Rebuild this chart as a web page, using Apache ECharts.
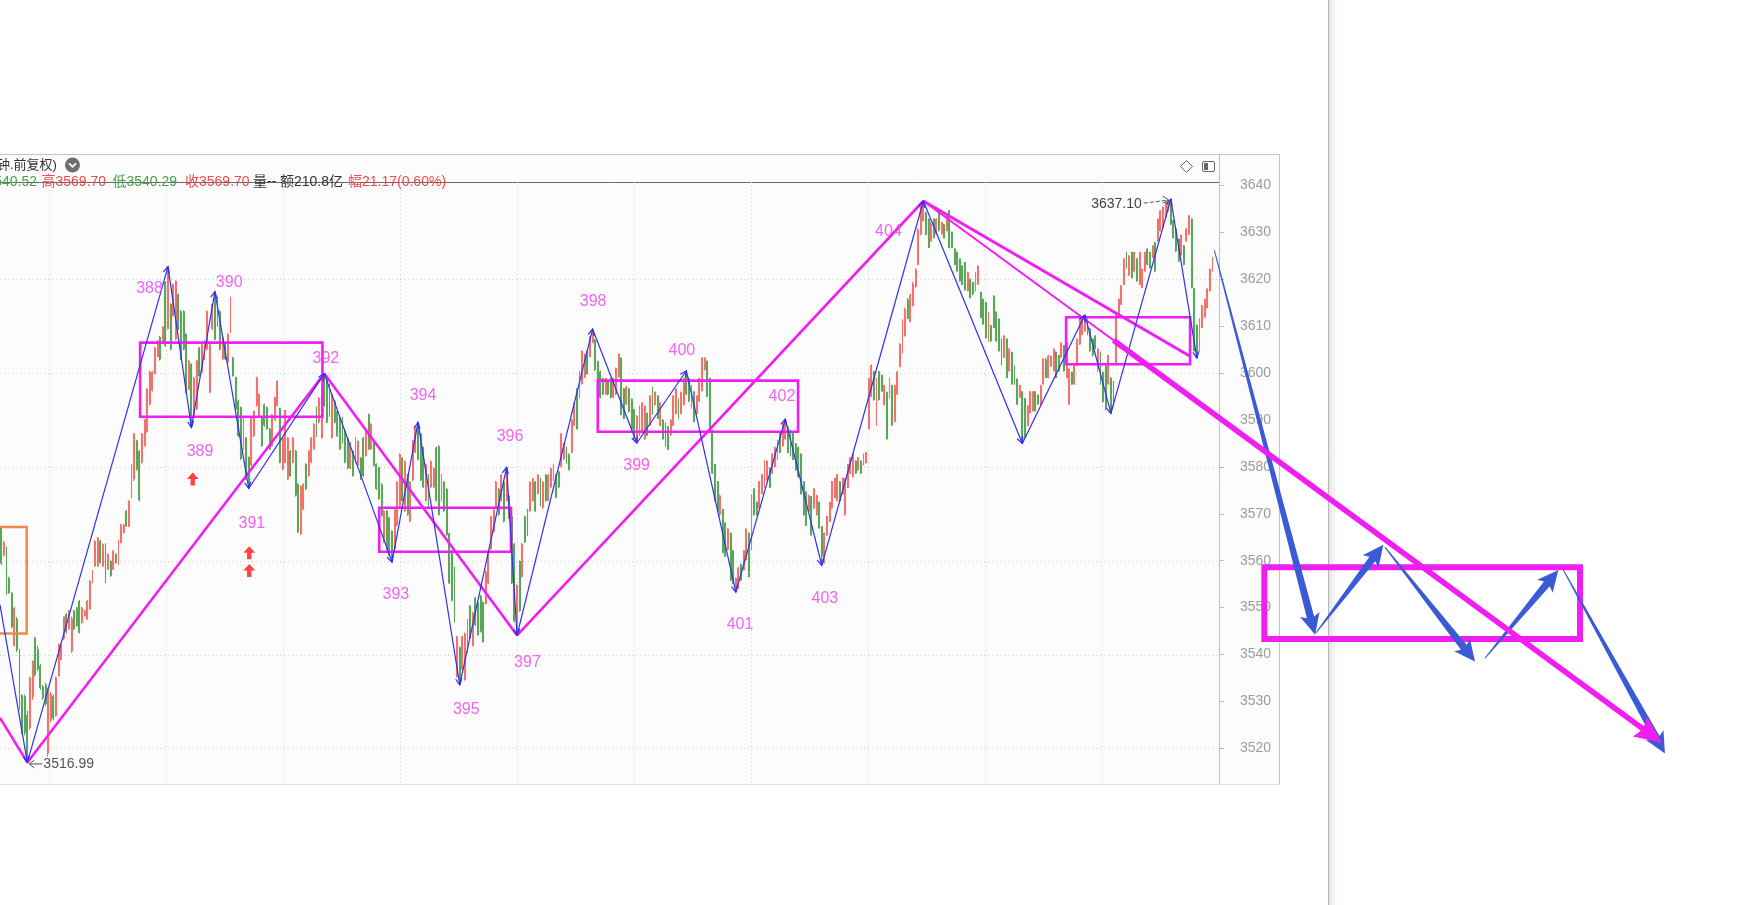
<!DOCTYPE html>
<html>
<head>
<meta charset="utf-8">
<script src="https://cdn.jsdelivr.net/npm/echarts@6.0.0/dist/echarts.min.js"></script>
<style>
html,body{margin:0;padding:0;background:#fff;}
#chart{width:1737px;height:905px;}
</style>
</head>
<body>
<div id="chart"></div>
<script>
// ---------------- DATA ----------------
// candles: [open, close, low, high]
const candlesA = [
[3567.0,3559.5,3559.1,3567.4],[3561.2,3563.8,3560.9,3564.2],[3562.6,3553.2,3552.7,3563.0],[3556.2,3553.3,3552.9,3556.6],
[3553.0,3546.0,3545.6,3553.4],[3542.0,3549.8,3541.7,3550.2],[3547.5,3541.0,3540.5,3548.0],[3540.8,3528.8,3528.2,3541.2],
[3531.2,3523.5,3523.0,3531.6],[3531.0,3523.5,3522.8,3531.5],[3527.0,3518.0,3516.99,3528.0]
];
const candlesB = [
[3524.5,3535.0,3523.9,3535.3],[3531.0,3538.5,3530.3,3538.8],[3543.5,3535.8,3535.3,3543.8],[3541.0,3537.0,3536.5,3541.8],
[3537.5,3533.0,3532.5,3538.0],[3533.0,3530.8,3530.3,3533.5],[3533.5,3529.5,3529.0,3534.0],[3519.0,3532.5,3518.2,3532.9],
[3526.0,3531.5,3525.5,3532.0],[3531.0,3526.5,3526.0,3531.5],[3527.0,3535.0,3526.8,3535.3],[3535.5,3542.0,3535.3,3542.4],
[3539.0,3542.0,3538.8,3542.4],[3543.5,3548.0,3543.1,3548.1],[3548.5,3545.0,3544.5,3548.8],[3545.5,3549.2,3545.2,3549.5],
[3540.8,3547.5,3540.3,3548.1],[3549.2,3545.5,3545.2,3549.5],[3549.9,3546.2,3545.9,3550.2],[3551.3,3544.8,3544.5,3551.6],
[3546.9,3549.9,3546.6,3550.2],[3548.3,3549.3,3548.1,3549.5],[3547.6,3551.3,3547.4,3551.6],[3549.8,3555.6,3549.5,3555.9],
[3555.4,3557.8,3555.2,3558.0],[3558.9,3564.1,3558.7,3564.4],[3558.9,3564.8,3558.7,3565.1],[3564.1,3559.7,3559.4,3564.4],
[3558.9,3563.4,3558.7,3563.7],[3563.4,3555.5,3555.2,3563.7],[3558.2,3561.3,3558.0,3561.6],[3559.8,3556.9,3556.6,3560.1],
[3558.2,3562.0,3558.0,3562.3],[3561.3,3559.6,3559.4,3561.6],[3559.3,3564.1,3559.1,3564.4],[3563.9,3567.6,3563.7,3567.9],
[3566.0,3567.6,3565.8,3567.9],[3570.5,3567.5,3567.2,3570.8],[3567.4,3572.6,3567.2,3572.9],[3574.0,3580.3,3573.3,3580.7],
[3577.5,3587.0,3577.0,3587.3],[3585.5,3579.6,3579.2,3585.8],[3583.3,3573.0,3572.6,3583.6],[3581.0,3587.0,3580.7,3587.3],
[3584.6,3590.0,3584.3,3590.2],[3587.6,3596.5,3587.3,3596.8],[3593.4,3600.2,3593.1,3600.5],[3596.4,3600.2,3596.1,3600.5],
[3600.0,3605.3,3599.7,3605.6],[3603.6,3606.8,3603.4,3607.1],[3607.6,3603.0,3602.7,3607.9],[3606.6,3609.8,3606.4,3610.0],
[3619.3,3606.0,3605.6,3619.6],[3609.5,3622.4,3609.3,3622.7]
];
const candlesC = [
[3614.6,3605.2,3604.9,3614.9],[3612.3,3618.8,3612.0,3619.1],[3607.3,3619.5,3607.0,3619.8],[3616.7,3609.5,3609.2,3617.0],
[3613.1,3603.1,3602.8,3613.4],[3613.1,3605.2,3604.9,3613.4],[3608.2,3596.0,3595.7,3608.5],[3596.7,3602.5,3596.4,3602.8],
[3601.8,3588.7,3588.4,3602.1],[3591.0,3598.9,3590.7,3599.2],[3592.4,3602.5,3592.1,3602.8],[3605.3,3599.5,3599.2,3605.6],
[3600.2,3606.0,3599.9,3606.3],[3603.1,3606.7,3602.8,3607.0],[3605.2,3613.1,3604.9,3613.4],[3596.0,3606.0,3595.7,3606.3],
[3609.5,3614.6,3609.2,3614.9],[3616.7,3607.3,3607.0,3617.4],[3616.0,3610.2,3609.9,3616.3],[3613.1,3605.2,3604.9,3613.4],
[3603.1,3607.5,3602.8,3607.8],[3606.0,3603.1,3602.8,3606.3],[3602.4,3608.2,3602.1,3608.5],[3608.8,3616.0,3608.5,3616.3],
[3603.2,3599.5,3599.2,3603.5],[3599.0,3592.4,3592.1,3599.2],[3594.0,3586.7,3586.4,3594.3],[3592.6,3581.8,3581.5,3592.9],
[3583.9,3590.4,3583.6,3590.7],[3586.1,3577.5,3577.2,3586.4],[3582.0,3575.7,3575.4,3582.2],[3580.4,3590.4,3580.1,3590.7],
[3586.7,3591.8,3586.4,3592.1],[3593.2,3598.9,3592.9,3599.2],[3591.0,3595.4,3590.7,3595.7],[3590.4,3584.6,3584.3,3590.7],
[3593.2,3589.0,3588.6,3593.5],[3592.6,3588.2,3587.9,3592.9],[3588.0,3583.9,3583.6,3588.3],[3584.6,3591.0,3584.3,3591.3],
[3590.0,3594.7,3589.9,3595.0],[3593.2,3598.2,3592.9,3598.5],[3592.4,3581.0,3580.8,3592.6],[3579.6,3586.1,3579.3,3586.4],
[3581.0,3592.0,3580.8,3592.1],[3577.5,3586.1,3577.2,3586.4],[3583.3,3578.2,3577.9,3583.6],[3581.0,3586.1,3580.8,3586.4],
[3583.3,3574.0,3573.7,3583.6],[3576.2,3566.2,3565.9,3576.5],[3565.8,3575.8,3565.5,3576.1],[3571.1,3576.2,3570.8,3576.5],
[3580.5,3575.4,3575.1,3580.8],[3578.2,3583.3,3577.9,3583.6],[3581.1,3586.1,3580.8,3586.4],[3583.9,3589.0,3583.6,3589.3],
[3592.6,3586.7,3586.4,3592.9],[3589.6,3594.6,3589.3,3594.9],[3586.3,3595.4,3586.0,3595.7],[3599.4,3593.2,3592.9,3599.9]
];
const candlesD = [
[3598.9,3589.6,3589.3,3599.2],[3597.5,3591.0,3590.7,3597.8],[3586.3,3595.4,3586.0,3595.7],[3594.0,3589.6,3589.3,3594.3],
[3591.8,3586.7,3586.4,3592.1],[3590.4,3583.9,3583.6,3590.7],[3590.4,3585.3,3585.0,3590.7],[3587.6,3581.1,3580.8,3587.9],
[3586.1,3579.8,3579.5,3586.4],[3579.8,3585.0,3579.5,3585.3],[3583.3,3578.2,3577.9,3583.6],[3581.1,3586.1,3580.8,3586.4],
[3580.4,3585.4,3580.1,3585.7],[3581.8,3577.5,3577.2,3582.1],[3586.1,3578.2,3577.9,3586.4],[3582.5,3587.5,3582.2,3587.8],
[3591.1,3583.9,3583.6,3591.4],[3583.9,3589.0,3583.6,3589.3],[3585.0,3580.4,3580.1,3585.3],[3580.5,3575.4,3575.1,3580.8],
[3579.8,3573.3,3573.0,3580.0],[3576.2,3569.7,3569.4,3576.5],[3564.0,3570.5,3563.7,3570.8],[3570.5,3562.6,3562.3,3570.8],
[3569.1,3561.2,3560.9,3569.4],[3566.2,3560.1,3559.7,3566.5],[3562.6,3570.8,3562.3,3571.1],[3567.7,3576.7,3567.4,3577.0],
[3571.4,3582.6,3571.1,3582.9],[3581.8,3572.9,3572.6,3582.1],[3570.7,3581.1,3570.4,3581.4],[3578.2,3569.9,3569.6,3578.5],
[3568.5,3576.7,3568.2,3577.0],[3577.3,3585.5,3577.0,3585.8],[3583.2,3588.4,3582.9,3588.7],[3589.0,3581.7,3581.4,3589.5],
[3587.0,3577.3,3577.0,3587.3],[3584.0,3575.8,3575.5,3584.3],[3572.9,3580.4,3572.6,3580.7],[3578.2,3571.4,3571.1,3578.5],
[3575.8,3581.1,3575.5,3581.4],[3575.8,3579.6,3575.5,3579.9],[3584.0,3572.9,3572.6,3584.3],[3584.3,3569.9,3569.6,3584.6],
[3572.9,3578.2,3572.6,3578.5],[3576.7,3570.7,3570.4,3577.0],[3575.2,3565.6,3565.3,3575.5],[3565.7,3555.3,3555.0,3566.0],
[3562.0,3551.6,3551.3,3562.3],[3558.4,3547.2,3546.9,3558.7],[3535.4,3543.7,3535.1,3544.0],[3541.4,3534.0,3533.5,3541.7],
[3536.9,3543.7,3536.6,3544.0],[3534.7,3544.4,3534.4,3544.7],[3540.6,3547.3,3540.3,3547.6],[3550.3,3543.5,3543.2,3550.6],
[3542.0,3548.8,3541.7,3549.1],[3552.0,3546.4,3546.1,3552.3],[3551.0,3544.3,3544.0,3551.3],[3552.4,3545.0,3544.7,3552.7],
[3551.0,3542.8,3542.5,3551.3],[3550.9,3557.6,3550.6,3557.9],[3555.3,3562.0,3555.0,3562.3],[3562.6,3569.3,3562.3,3569.6],
[3566.3,3570.8,3566.0,3571.1],[3571.4,3576.7,3571.1,3577.0],[3575.2,3569.9,3569.6,3575.5],[3572.9,3578.2,3572.6,3578.5],
[3576.7,3568.5,3568.2,3577.0],[3572.9,3579.6,3572.6,3579.9],[3573.8,3569.2,3568.9,3574.1],[3569.3,3555.3,3555.0,3569.6],
[3563.5,3547.2,3546.9,3563.8],[3544.3,3554.7,3544.1,3555.0]
];
const candlesE = [
[3559.8,3549.4,3549.1,3560.1],[3556.7,3563.5,3556.4,3563.8],[3569.3,3564.1,3563.8,3569.6],[3570.8,3565.6,3565.3,3571.1],
[3570.7,3576.7,3570.4,3577.0],[3572.9,3577.4,3572.6,3577.7],[3576.7,3570.7,3570.4,3577.0],[3574.4,3578.2,3574.1,3578.5],
[3577.4,3571.9,3571.6,3577.7],[3571.4,3576.7,3571.1,3577.0],[3578.2,3572.9,3572.6,3578.5],[3572.9,3578.2,3572.6,3578.5],
[3575.8,3579.6,3575.5,3579.9],[3577.3,3580.4,3577.0,3580.7],[3578.2,3573.6,3573.3,3578.5],[3578.9,3575.8,3575.5,3579.2],
[3580.2,3587.0,3579.9,3587.3],[3581.7,3584.8,3581.4,3585.1],[3584.0,3581.0,3580.7,3584.3],[3582.6,3579.5,3579.2,3582.9],
[3583.2,3589.9,3582.9,3590.2],[3588.9,3593.6,3588.7,3593.9],[3596.5,3588.2,3587.9,3596.8],[3594.8,3600.2,3594.6,3600.5],
[3597.8,3604.6,3597.5,3604.9],[3599.2,3603.9,3598.9,3604.2],[3604.6,3599.9,3599.7,3604.9],[3603.6,3607.6,3603.4,3607.9],
[3606.6,3609.1,3606.4,3609.4],[3607.0,3600.8,3600.5,3607.2],[3602.4,3597.8,3597.5,3602.7],[3600.2,3594.9,3594.6,3600.5],
[3598.8,3595.6,3595.3,3599.0],[3595.6,3598.8,3595.3,3599.0],[3598.1,3595.6,3595.3,3598.3],[3598.8,3594.9,3594.6,3599.0],
[3594.9,3598.8,3594.6,3599.0],[3595.6,3601.0,3595.3,3601.2],[3599.3,3604.0,3599.0,3604.2],[3603.2,3591.2,3591.0,3603.4],
[3596.6,3590.4,3590.2,3596.8],[3593.5,3597.0,3593.2,3597.3],[3596.6,3591.9,3591.6,3596.8],[3594.4,3588.2,3588.0,3594.6],
[3592.2,3586.0,3585.8,3592.4],[3585.4,3590.8,3585.1,3591.0],[3587.0,3592.9,3586.6,3593.1],[3587.5,3593.6,3587.3,3593.8],
[3586.0,3592.9,3585.8,3593.1],[3591.4,3586.8,3586.6,3591.6],[3588.9,3595.1,3588.7,3595.3],[3596.9,3591.4,3591.2,3597.1],
[3593.3,3595.9,3593.1,3596.1],[3595.1,3590.4,3590.2,3595.3],[3588.9,3593.6,3588.7,3593.8],[3589.9,3586.0,3585.8,3590.2],
[3589.3,3584.5,3584.3,3589.5],[3588.5,3583.8,3583.6,3588.7],[3587.0,3589.9,3586.6,3590.2],[3588.9,3595.1,3588.7,3595.3],
[3591.4,3596.6,3591.2,3596.8],[3594.4,3590.4,3590.2,3594.6],[3591.4,3595.8,3591.2,3596.1],[3593.3,3598.8,3593.1,3599.0],
[3600.3,3595.6,3595.3,3600.5],[3598.8,3594.1,3593.8,3599.0],[3592.6,3597.3,3592.4,3597.5],[3596.0,3589.7,3589.5,3596.1],
[3591.4,3595.1,3591.2,3595.3],[3594.1,3598.8,3593.8,3599.0],[3596.3,3603.2,3596.1,3603.4],[3600.8,3603.2,3600.5,3603.4],
[3602.5,3595.1,3594.9,3602.7],[3598.8,3587.5,3587.3,3599.0],[3587.8,3578.7,3578.5,3588.0],[3580.5,3572.9,3572.6,3580.7],
[3576.8,3570.6,3570.4,3577.0],[3569.9,3573.8,3569.6,3574.1],[3570.9,3561.8,3561.6,3571.1],[3568.0,3561.0,3560.8,3568.2],
[3562.5,3566.7,3562.3,3566.9],[3565.8,3555.9,3555.7,3566.0],[3562.1,3555.2,3555.0,3562.3],[3553.5,3556.2,3553.3,3556.4]
];
const candlesF = [
[3554.2,3558.4,3554.0,3558.7],[3559.2,3555.9,3555.7,3559.4],[3558.1,3562.1,3557.9,3562.3],[3560.2,3566.7,3560.0,3566.9],
[3565.8,3556.6,3556.4,3566.0],[3562.5,3573.8,3562.3,3574.1],[3575.3,3569.9,3569.6,3575.5],[3572.4,3569.9,3569.6,3572.6],
[3571.3,3576.8,3571.1,3577.0],[3574.3,3578.3,3574.1,3578.5],[3575.7,3581.2,3575.5,3581.4],[3577.2,3581.2,3577.0,3581.4],
[3579.7,3575.7,3575.5,3579.9],[3578.7,3582.7,3578.5,3582.9],[3580.1,3584.1,3579.9,3584.3],[3581.6,3585.6,3581.4,3585.8],
[3587.1,3583.1,3582.9,3587.3],[3584.5,3589.3,3584.3,3589.5],[3586.0,3590.0,3585.8,3590.2],[3588.5,3583.1,3582.9,3588.7],
[3587.8,3582.4,3582.2,3588.0],[3587.1,3581.6,3581.4,3587.3],[3584.9,3579.4,3579.2,3585.1],[3584.1,3577.9,3577.7,3584.3],
[3582.7,3574.3,3574.1,3582.9],[3576.8,3569.9,3569.6,3577.0],[3574.6,3567.6,3567.4,3574.8],[3570.6,3573.8,3570.4,3574.1],
[3573.6,3565.5,3565.3,3573.8],[3571.3,3575.3,3571.1,3575.5],[3569.9,3573.8,3569.6,3574.1],[3572.4,3567.0,3566.8,3572.6],
[3567.2,3561.0,3559.0,3567.4],[3559.6,3565.8,3559.4,3566.0],[3565.5,3569.4,3565.3,3569.6],[3568.4,3572.4,3568.2,3572.6],
[3571.3,3576.8,3571.1,3577.0],[3573.5,3577.5,3573.3,3577.7],[3572.8,3578.3,3572.6,3578.5],[3576.8,3572.8,3572.6,3577.0],
[3574.3,3577.5,3574.1,3577.7],[3569.9,3577.5,3569.6,3577.7],[3575.7,3580.5,3575.5,3580.7],[3578.7,3581.9,3578.5,3582.1],
[3578.0,3582.7,3577.7,3582.9],[3581.2,3578.7,3578.5,3581.4],[3579.4,3581.9,3579.2,3582.1],[3581.2,3578.7,3578.5,3581.4],
[3580.5,3582.7,3580.3,3582.9],[3580.9,3583.0,3580.7,3583.2],[3588.2,3598.8,3588.0,3599.0],[3595.1,3601.6,3594.9,3601.9],
[3600.3,3594.4,3594.1,3600.5],[3588.9,3598.8,3588.7,3599.0],[3600.3,3594.4,3594.1,3600.5],[3599.5,3596.2,3596.0,3599.7],
[3593.3,3597.3,3593.1,3597.5],[3595.8,3586.0,3585.8,3596.1],[3594.9,3598.8,3594.6,3599.0],[3597.3,3589.0,3588.7,3597.5],
[3589.7,3597.3,3589.5,3597.5],[3595.6,3600.2,3595.3,3600.5],[3601.4,3606.1,3601.2,3606.4],[3604.5,3611.3,3604.2,3611.5],
[3608.0,3613.5,3607.8,3614.0],[3615.5,3611.7,3611.5,3616.0],[3611.0,3616.5,3610.8,3617.0],[3614.5,3619.0,3614.2,3619.5],
[3618.5,3622.0,3618.2,3622.4],[3623.2,3630.5,3623.0,3630.9],[3629.6,3635.5,3629.4,3635.8],[3632.5,3636.4,3632.3,3636.7]
];
const candlesG = [
[3634.2,3629.6,3629.4,3634.4],[3632.8,3626.8,3626.6,3633.0],[3628.2,3631.8,3628.0,3632.3],[3632.8,3629.0,3628.7,3633.0],
[3629.7,3632.8,3629.5,3633.0],[3634.2,3630.5,3630.2,3634.4],[3629.7,3632.1,3629.5,3632.3],[3631.6,3628.9,3628.7,3631.8],
[3630.4,3633.5,3630.2,3633.7],[3634.6,3626.8,3626.6,3634.8],[3630.0,3626.8,3626.6,3630.2],[3626.4,3623.2,3623.0,3626.6],
[3625.7,3621.8,3621.6,3625.9],[3624.3,3619.7,3619.5,3624.5],[3622.8,3618.9,3618.8,3623.0],[3623.5,3617.8,3617.6,3623.7],
[3617.6,3621.4,3617.4,3621.6],[3620.0,3616.1,3615.9,3620.2],[3619.3,3617.0,3616.6,3619.5],[3617.6,3621.4,3617.4,3621.6],
[3619.0,3622.8,3618.8,3623.0],[3617.2,3611.9,3611.7,3617.4],[3615.7,3610.5,3610.3,3615.9],[3615.0,3607.6,3607.4,3615.2],
[3606.9,3613.0,3606.7,3613.1],[3610.1,3606.9,3606.7,3610.3],[3616.4,3609.8,3609.6,3616.6],[3613.0,3606.9,3606.7,3613.1],
[3611.5,3604.8,3604.6,3611.7],[3607.2,3602.0,3601.7,3607.4],[3603.4,3607.9,3603.2,3608.1],[3607.2,3599.1,3598.9,3607.4],
[3600.5,3605.1,3600.3,3605.3],[3604.4,3597.7,3597.5,3604.6],[3601.5,3597.7,3597.5,3601.7],[3598.7,3593.4,3593.2,3598.9],
[3594.9,3597.3,3594.7,3597.5],[3596.0,3585.6,3585.0,3596.1],[3594.5,3586.3,3586.1,3594.7],[3588.9,3592.9,3588.7,3593.2],
[3591.6,3596.0,3591.4,3596.1],[3592.0,3596.0,3591.8,3596.1],[3596.0,3592.0,3591.8,3596.1],[3595.3,3593.4,3593.2,3595.4],
[3593.4,3597.3,3593.2,3597.5],[3597.7,3603.0,3597.5,3603.2],[3602.8,3599.1,3598.9,3603.2],[3599.1,3603.6,3598.9,3603.9],
[3601.5,3603.6,3601.4,3603.7],[3600.5,3605.1,3600.3,3605.3],[3604.4,3599.1,3598.9,3604.6],[3603.7,3600.5,3600.3,3603.9],
[3603.4,3606.4,3603.2,3606.6],[3605.9,3600.5,3600.3,3606.0],[3599.1,3606.5,3598.9,3606.7],[3593.4,3600.8,3593.2,3601.0],
[3600.2,3597.7,3597.5,3600.3],[3597.7,3601.5,3597.5,3601.7],[3601.7,3607.2,3601.5,3607.4],[3606.2,3611.5,3606.0,3611.7],
[3608.3,3611.5,3608.1,3611.7],[3609.0,3612.1,3608.8,3612.4],[3611.5,3608.3,3608.1,3611.7],[3609.4,3604.8,3604.6,3609.6],
[3607.2,3603.9,3603.6,3607.4],[3607.9,3605.3,3605.1,3608.1],[3601.0,3605.1,3600.3,3605.3],[3604.4,3597.7,3597.5,3604.6],
[3600.2,3594.0,3593.7,3600.3],[3601.5,3592.4,3592.1,3601.7],[3597.7,3603.7,3597.5,3603.9],[3598.9,3591.8,3591.4,3599.1],
[3598.1,3593.1,3592.9,3598.3],[3601.8,3612.9,3601.7,3613.1],[3612.6,3615.7,3612.4,3615.9],[3614.7,3618.6,3614.5,3618.8],
[3618.9,3624.3,3618.8,3624.5],[3625.7,3622.5,3622.3,3625.9],[3620.9,3624.9,3620.9,3625.2],[3625.7,3620.4,3620.2,3625.9],
[3621.8,3625.7,3621.6,3625.9],[3624.3,3619.7,3619.5,3624.5],[3618.9,3625.7,3618.8,3625.9],[3618.3,3622.1,3618.1,3622.3],
[3621.8,3625.7,3621.6,3625.9],[3626.4,3623.2,3623.0,3626.6],[3625.7,3622.5,3622.3,3625.9],[3624.7,3627.1,3624.5,3627.3],
[3627.8,3621.8,3621.6,3628.0],[3628.2,3632.8,3628.0,3633.0],[3630.4,3634.6,3630.2,3634.8],[3631.1,3635.3,3630.9,3635.5],
[3633.2,3636.3,3633.0,3636.5],[3634.6,3636.8,3634.4,3637.0],[3637.0,3631.8,3631.6,3637.1],[3632.5,3628.9,3628.7,3632.7],
[3630.7,3626.1,3625.9,3630.9],[3628.5,3623.9,3623.7,3628.7],[3625.2,3629.4,3625.0,3629.5],[3627.1,3623.2,3623.0,3627.3],
[3628.2,3630.7,3628.0,3630.9],[3629.6,3633.5,3629.4,3633.7],[3632.8,3618.3,3618.1,3633.0],[3618.0,3604.8,3604.6,3618.1],
[3610.2,3603.4,3603.2,3610.4],[3604.8,3611.5,3604.6,3611.7],[3609.8,3614.3,3609.6,3614.5],[3612.0,3615.7,3611.8,3615.9],
[3614.0,3617.9,3613.8,3618.1],[3617.6,3622.1,3617.4,3622.3],[3621.8,3624.6,3621.6,3624.8]
];

// axis range / ticks
const slotCount = 468;            // bar slots on the time axis (last few empty)
const yMin = 3512.39, yMax = 3640.75;
const hGridValues = [3520, 3540, 3560, 3580, 3600, 3620];
const vGridBars = [18.3, 63.2, 108.2, 153.1, 198.0, 242.9, 287.8, 332.7, 377.7, 422.6];

// blue zig-zag pivots [bar, price]
const zigzag = [[-0.5,3550.6],[10,3516.99],[64,3622.7],[73,3588.4],[82,3617.4],[95,3575.4],[124,3599.9],
  [150,3559.7],[160,3589.5],[176,3533.5],[194,3579.9],[198,3544.1],[227,3609.4],[244,3585.1],[263,3600.5],
  [282,3553.3],[301,3590.2],[315,3559.0],[354,3636.7],[392,3585.0],[416,3612.4],[426,3591.4],[449,3637.1],[459,3603.2]];
// magenta trend line pivots
const trendPivots = [[-0.5,3526.5],[10,3516.99],[124,3599.9],[198,3544.1],[354,3636.7]];
const trendA = [354, 3636.7, 456.4, 3603.6];
const trendBThin = [354, 3636.7, 427, 3607.0];
const trendBThick = [427, 3607.0, 637.5, 3521.2];
// boxes [barFrom, barTo, priceTop, priceBottom]
const magentaBoxes = [[53.3,123.3,3606.5,3590.7],[145.1,195.7,3571.3,3561.9],[229,305.9,3598.4,3587.5],[408.8,456.4,3611.9,3601.9]];
const orangeBox = [[-5,9.75,3567.2,3544.5]];
const forecastBox = [[484.9,606.1,3558.6,3543.3]];
// forecast arrows [bar0, price0, bar1, price1]
const forecastArrows = [[465.7,3626.2,504.4,3544.2],[504.7,3544.6,530.6,3563.4],[531.2,3562.9,565.8,3538.5],
  [569.6,3539.2,597.8,3558.0],[599.7,3558.0,638.7,3518.9]];
// wave labels [text, bar, price]
const waveLabels = [['388',56.9,3618.1],['389',76.3,3583.2],['390',87.5,3619.2],['391',96.2,3568.0],['392',124.6,3603.0],
  ['393',151.5,3552.8],['394',161.9,3595.3],['395',178.5,3528.2],['396',195.3,3586.4],['397',202.0,3538.2],
  ['398',227.2,3615.2],['399',243.9,3580.3],['400',261.3,3604.9],['401',283.6,3546.3],['402',299.7,3595.0],
  ['403',316.2,3552.0],['404',340.6,3630.2]];
const upArrows = [[73.5,3577.4],[95.2,3561.7],[95.2,3557.9]];
const lowMark = [[10, 3516.99]];
const highMark = [[449, 3637.10]];
const headerRow = [['开3540.52','g'],['高3569.70','r'],['低3540.29','g'],['收3569.70','r'],['量--','k'],['额210.8亿','k'],['幅21.17(0.60%)','r']];

// ---------------- CHART ----------------
const candles = [].concat(candlesA, candlesB, candlesC, candlesD, candlesE, candlesF, candlesG);
const chart = echarts.init(document.getElementById('chart'), null, {renderer: 'canvas'});

const MAG = '#f01ef0', BLUE = '#2f2ff2', ARROW_BLUE = '#3b5bd6';
function segs(pts) { const r = []; for (let i = 1; i < pts.length; i++) r.push([pts[i-1][0], pts[i-1][1], pts[i][0], pts[i][1]]); return r; }

function segRender(color, width, chevron) {
  return function (params, api) {
    const p0 = api.coord([api.value(0), api.value(1)]);
    const p1 = api.coord([api.value(2), api.value(3)]);
    const ch = [{type: 'line', shape: {x1: p0[0], y1: p0[1], x2: p1[0], y2: p1[1]}, style: {stroke: color, lineWidth: width}}];
    if (chevron) {
      const a = Math.atan2(p1[1] - p0[1], p1[0] - p0[0]), L = 7, s = 0.45;
      ch.push({type: 'polyline', shape: {points: [[p1[0] - L*Math.cos(a - s), p1[1] - L*Math.sin(a - s)], p1,
        [p1[0] - L*Math.cos(a + s), p1[1] - L*Math.sin(a + s)]]}, style: {stroke: color, lineWidth: width, fill: null}});
    }
    return {type: 'group', children: ch};
  };
}
function taperRender(color, w0, w1, hl, hw) {
  return function (params, api) {
    const p0 = api.coord([api.value(0), api.value(1)]);
    const p1 = api.coord([api.value(2), api.value(3)]);
    const dx = p1[0] - p0[0], dy = p1[1] - p0[1], len = Math.hypot(dx, dy);
    const ux = dx/len, uy = dy/len, nx = -uy, ny = ux;
    const bx = p1[0] - ux*hl, by = p1[1] - uy*hl;
    const pts = [[p0[0] + nx*w0/2, p0[1] + ny*w0/2], [bx + nx*w1/2, by + ny*w1/2], [bx + nx*hw - ux*3, by + ny*hw - uy*3], p1,
      [bx - nx*hw - ux*3, by - ny*hw - uy*3], [bx - nx*w1/2, by - ny*w1/2], [p0[0] - nx*w0/2, p0[1] - ny*w0/2]];
    return {type: 'polygon', shape: {points: pts}, style: {fill: color}};
  };
}
function boxRender(color, width) {
  return function (params, api) {
    const a = api.coord([api.value(0), api.value(2)]);
    const b = api.coord([api.value(1), api.value(3)]);
    return {type: 'rect', shape: {x: a[0], y: a[1], width: b[0] - a[0], height: b[1] - a[1]}, style: {stroke: color, lineWidth: width, fill: null}};
  };
}
function customOn(grid, data, render, z, extra) {
  return Object.assign({type: 'custom', xAxisIndex: grid, yAxisIndex: grid, data: data, renderItem: render, z: z,
    silent: true, animation: false, encode: {x: [0, 2], y: [1, 3]}}, extra || {});
}

const FONT = '"Liberation Sans", "Noto Sans CJK SC", sans-serif';
const colorMap = {r: '#f24a4a', g: '#45a445', k: '#333333'};
const headerX = [37, 41.5, 112.5, 185, 253, 280, 348];
const graphics = [
  {type: 'rect', shape: {x: 0, y: 154, width: 1279, height: 630}, style: {fill: '#fcfcfc'}, z: -10, silent: true},
  {type: 'line', shape: {x1: 0, y1: 154.5, x2: 1279.5, y2: 154.5}, style: {stroke: '#c4c4c4', lineWidth: 1}},
  {type: 'line', shape: {x1: 1279.5, y1: 154, x2: 1279.5, y2: 785}, style: {stroke: '#c4c4c4', lineWidth: 1}},
  {type: 'line', shape: {x1: 0, y1: 784.5, x2: 1279.5, y2: 784.5}, style: {stroke: '#e0e0e0', lineWidth: 1}},
  {type: 'line', shape: {x1: 1219.5, y1: 154, x2: 1219.5, y2: 182}, style: {stroke: '#bdbdbd', lineWidth: 1}},
  {type: 'line', shape: {x1: 0, y1: 182.5, x2: 1219, y2: 182.5}, style: {stroke: '#6a6a6a', lineWidth: 1}},
  {type: 'rect', shape: {x: 1329, y: 0, width: 9, height: 905},
    style: {fill: new echarts.graphic.LinearGradient(0, 0, 1, 0, [{offset: 0, color: 'rgba(0,0,0,0.10)'}, {offset: 1, color: 'rgba(0,0,0,0)'}])}},
  {type: 'line', shape: {x1: 1328.5, y1: 0, x2: 1328.5, y2: 905}, style: {stroke: '#b4b4b4', lineWidth: 1}},
  {type: 'text', x: -3, y: 165, style: {text: '钟.前复权)', fill: '#333', font: '13px ' + FONT, textVerticalAlign: 'middle', verticalAlign: 'middle'}},
  {type: 'circle', shape: {cx: 72.5, cy: 165, r: 7.5}, style: {fill: '#6e6e6e'}},
  {type: 'polyline', shape: {points: [[69, 163.3], [72.5, 166.8], [76, 163.3]]}, style: {stroke: '#fff', lineWidth: 1.8, fill: null}},
  {type: 'polygon', shape: {points: [[1186.5, 160.5], [1192.5, 166.5], [1186.5, 172.5], [1180.5, 166.5]]}, style: {stroke: '#666', fill: '#fff', lineWidth: 1}},
  {type: 'rect', shape: {x: 1202.5, y: 161.5, width: 12, height: 10, r: 1.5}, style: {stroke: '#666', fill: '#fff', lineWidth: 1}},
  {type: 'rect', shape: {x: 1204, y: 163, width: 4, height: 7}, style: {fill: '#666'}}
];
headerRow.forEach(function (h, i) {
  graphics.push({type: 'text', x: headerX[i], y: 182, style: {text: h[0], fill: colorMap[h[1]], font: '14px ' + FONT,
    textAlign: i === 0 ? 'right' : 'left', align: i === 0 ? 'right' : 'left', textVerticalAlign: 'middle', verticalAlign: 'middle'}});
});

const option = {
  animation: false,
  backgroundColor: '#ffffff',
  textStyle: {fontFamily: FONT},
  graphic: {elements: graphics},
  grid: [
    {left: 0, top: 182, width: 1219, height: 602},
    {left: 0, top: 182, width: 1737, height: 602}
  ],
  xAxis: [
    {type: 'category', gridIndex: 0, data: Array.from({length: slotCount}, function (_, i) { return i; }), show: false, boundaryGap: true},
    {type: 'value', gridIndex: 1, min: -0.5, max: -0.5 + slotCount * 1737 / 1219, show: false}
  ],
  yAxis: [
    {type: 'value', gridIndex: 0, position: 'right', min: yMin, max: yMax, splitNumber: 13, scale: true,
      axisLine: {show: true, lineStyle: {color: '#bdbdbd', width: 1}},
      axisTick: {show: true, length: 5, lineStyle: {color: '#bdbdbd'}},
      axisLabel: {show: true, margin: 21, color: '#9c9c9c', fontSize: 14, fontFamily: FONT, showMinLabel: false, showMaxLabel: false,
        formatter: function (v) { const r = Math.round(v / 10) * 10; return Math.abs(v - r) < 1e-6 ? String(r) : ''; }},
      splitLine: {show: false}},
    {type: 'value', gridIndex: 1, min: yMin, max: yMax, show: false, splitLine: {show: false}}
  ],
  series: [
    customOn(0, hGridValues.map(function (v) { return [0, v]; }), function (params, api) {
      const cs = params.coordSys; const y = Math.round(api.coord([0, api.value(1)])[1]) + 0.5;
      return {type: 'line', shape: {x1: cs.x, y1: y, x2: cs.x + cs.width, y2: y}, style: {stroke: '#cfcfcf', lineWidth: 1, lineDash: [1, 3]}};
    }, 1, {encode: {x: 0, y: 1}}),
    customOn(1, vGridBars.map(function (v) { return [v, yMin]; }), function (params, api) {
      const cs = params.coordSys; const x = Math.round(api.coord([api.value(0), yMin])[0]) + 0.5;
      return {type: 'line', shape: {x1: x, y1: cs.y, x2: x, y2: cs.y + cs.height}, style: {stroke: '#cfcfcf', lineWidth: 1, lineDash: [1, 3]}};
    }, 1, {encode: {x: 0, y: 1}}),
    {type: 'candlestick', xAxisIndex: 0, yAxisIndex: 0, data: candles, barWidth: 1.4, z: 2, silent: true,
      itemStyle: {color: '#f2726c', color0: '#5aa65a', borderColor: '#f2726c', borderColor0: '#5aa65a', borderWidth: 1.1},
      emphasis: {disabled: true}},
    customOn(1, orangeBox, boxRender('#f0884a', 2.5), 3),
    customOn(1, magentaBoxes, boxRender(MAG, 2.6), 3),
    customOn(1, segs(trendPivots), segRender(MAG, 2.6, false), 4),
    customOn(1, [trendA], segRender(MAG, 3, false), 4),
    customOn(1, [trendBThin], segRender(MAG, 2, false), 4),
    customOn(1, segs(zigzag), segRender(BLUE, 1.2, true), 5),
    customOn(1, forecastBox, boxRender(MAG, 6), 5),
    customOn(1, forecastArrows, taperRender(ARROW_BLUE, 1, 7.5, 18, 10), 6),
    customOn(1, [trendBThick], taperRender(MAG, 5.5, 5.5, 24, 12), 7),
    {type: 'scatter', xAxisIndex: 1, yAxisIndex: 1, z: 8, silent: true, symbolSize: 1,
      itemStyle: {color: 'rgba(0,0,0,0)'},
      data: waveLabels.map(function (d) { return {name: d[0], value: [d[1], d[2]]}; }),
      label: {show: true, position: 'inside', formatter: '{b}', color: '#f23cf2', fontSize: 16, fontFamily: FONT}},
    {type: 'scatter', xAxisIndex: 1, yAxisIndex: 1, z: 8, silent: true, data: upArrows,
      symbol: 'path://M6,0 L12,6.5 L8.2,6.5 L8.2,13 L3.8,13 L3.8,6.5 L0,6.5 Z', symbolSize: [12, 13], itemStyle: {color: '#ff1414'}},
    customOn(1, lowMark, function (params, api) {
      const p = api.coord([api.value(0), api.value(1)]);
      return {type: 'group', children: [
        {type: 'line', shape: {x1: p[0] + 2, y1: p[1] + 1.5, x2: p[0] + 15, y2: p[1] + 1.5}, style: {stroke: '#555', lineWidth: 1}},
        {type: 'polyline', shape: {points: [[p[0] + 7, p[1] - 2.5], [p[0] + 2, p[1] + 1.5], [p[0] + 7, p[1] + 5.5]]}, style: {stroke: '#555', lineWidth: 1, fill: null}},
        {type: 'text', x: p[0] + 16, y: p[1] + 2, style: {text: api.value(1).toFixed(2), fill: '#555', font: '14px ' + FONT,
          textVerticalAlign: 'middle', verticalAlign: 'middle'}}
      ]};
    }, 8, {encode: {x: 0, y: 1}}),
    customOn(1, highMark, function (params, api) {
      const p = api.coord([api.value(0), api.value(1)]);
      return {type: 'group', children: [
        {type: 'line', shape: {x1: p[0] - 27, y1: p[1] + 4, x2: p[0] - 3, y2: p[1] + 1}, style: {stroke: '#555', lineWidth: 1, lineDash: [4, 2]}},
        {type: 'polyline', shape: {points: [[p[0] - 8, p[1] - 3], [p[0] - 2, p[1] + 1], [p[0] - 8, p[1] + 4]]}, style: {stroke: '#555', lineWidth: 1, fill: null}},
        {type: 'text', x: p[0] - 29, y: p[1] + 5, style: {text: api.value(1).toFixed(2), fill: '#444', font: '14px ' + FONT,
          textAlign: 'right', align: 'right', textVerticalAlign: 'middle', verticalAlign: 'middle'}}
      ]};
    }, 8, {encode: {x: 0, y: 1}})
  ]
};
chart.setOption(option);
</script>
</body>
</html>
